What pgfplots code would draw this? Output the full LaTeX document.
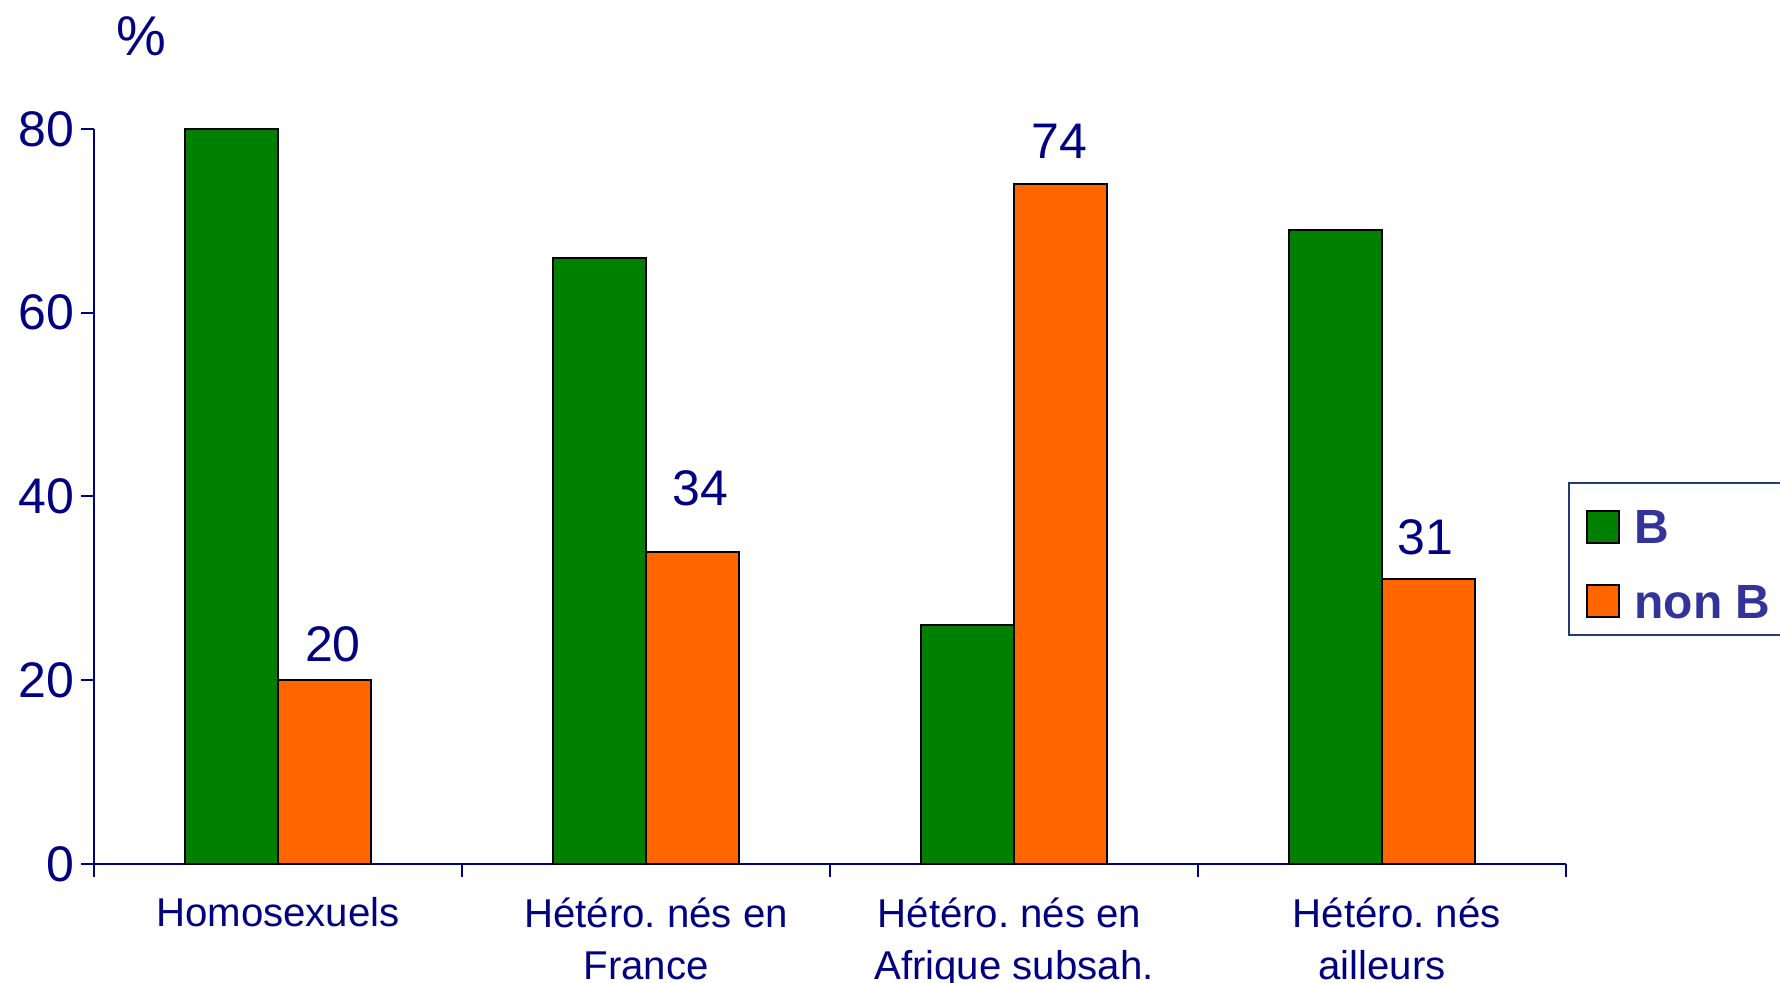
\documentclass[border=0pt]{standalone}
\usepackage{fontspec}
\setmainfont{Liberation Sans}
\usepackage{pgfplots}
\usepackage{pgfplotstable}
\pgfplotsset{compat=1.18}
\frenchspacing
\definecolor{navy}{HTML}{000080}
\definecolor{bgreen}{HTML}{008000}
\definecolor{borange}{HTML}{FF6600}
\definecolor{legtext}{HTML}{333399}
\definecolor{legframe}{HTML}{1F3F70}
\pgfplotstableread{
x y
0 80
1 66
2 26
3 69
}\seriesB
\pgfplotstableread{
x y dx dy
0 20 4.25 8.5
1 34 3.75 22.5
2 74 -0.75 12.5
3 31 -1.5 11.5
}\seriesNonB
\begin{document}
\begin{tikzpicture}
\begin{axis}[
  name=ax,
  scale only axis, width=736pt, height=367.5pt,
  ybar=0pt, bar width=46.5pt,
  xmin=-0.5, xmax=3.5, ymin=0, ymax=80,
  clip=false,
  axis lines=left,
  axis line style={-, draw=navy, line width=1pt},
  xtick={0,1,2,3},
  xticklabels={Homosexuels, \hspace*{10pt}Hétéro. nés en\\France, Hétéro. nés en\hspace*{4.5pt}\\Afrique subsah., \hspace*{14.8pt}Hétéro. nés\\ailleurs},
  xticklabel style={align=center, font=\fontsize{20.1}{26}\selectfont, text=navy, yshift=-6.8pt},
  major x tick style={draw=none},
  minor xtick={-0.5,0.5,1.5,2.5,3.5},
  minor x tick style={draw=navy, line width=1pt},
  ytick={0,20,40,60,80},
  y tick style={draw=navy, line width=1pt},
  tick align=outside,
  major tick length=6.5pt, minor tick length=6.5pt,
  yticklabel style={font=\fontsize{25}{30}\selectfont, text=navy},
  /pgf/number format/assume math mode=true,
  legend style={at={(1.0014,0.52)}, anchor=north west, draw=legframe, line width=1pt,
    font=\fontsize{24}{28}\bfseries\selectfont, text=legtext,
    inner xsep=8.4pt, inner ysep=6.7pt, row sep=18.6pt, column sep=7.3pt,
    nodes={inner sep=0pt}, cells={anchor=base west}},
  legend image code/.code={\draw[#1, draw=black, line width=1pt] (0pt,0.6pt) rectangle (16pt,16.6pt);},
]
\addplot[fill=bgreen, draw=black, line width=1pt] table[x=x, y=y] {\seriesB};
\addplot[fill=borange, draw=black, line width=1pt,
  visualization depends on={\thisrow{dx} \as \mydx},
  visualization depends on={\thisrow{dy} \as \mydy},
  nodes near coords,
  nodes near coords style={font=\fontsize{25}{30}\selectfont, text=navy, anchor=south, inner sep=0pt, xshift=\mydx, yshift=\mydy}]
  table[x=x, y=y] {\seriesNonB};
\legend{\rule{0pt}{23.8pt}B, non B}
\node[font=\fontsize{28}{30}\selectfont, text=navy] at (rel axis cs:0.0325,1.1265) {\%};
\end{axis}
\pgfresetboundingbox
\path[use as bounding box] ([xshift=-47pt,yshift=-59.5pt]ax.south west) rectangle ([xshift=843pt,yshift=432pt]ax.south west);
\end{tikzpicture}
\end{document}
